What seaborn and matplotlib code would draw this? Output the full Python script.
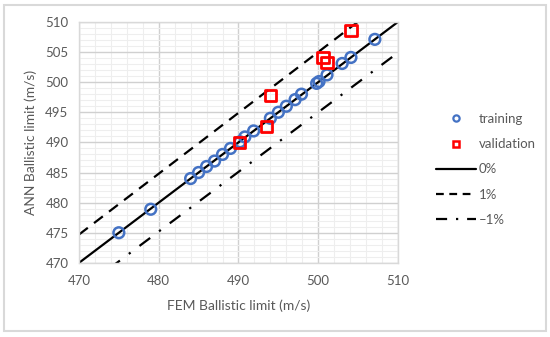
import numpy as np
import pandas as pd
import matplotlib
matplotlib.use("Agg")
import matplotlib.pyplot as plt
import seaborn as sns
from matplotlib.lines import Line2D
from matplotlib.patches import Rectangle

train_fem = [475, 479, 484, 485, 486, 487, 488, 489, 490.2, 490.8, 491.9, 494, 495, 496, 497.1, 497.9, 499.8, 500.1, 501.1, 503, 504.1, 507.1]
train_ann = [475, 478.9, 484, 485, 486, 486.9, 488, 489, 490.1, 490.9, 491.9, 494, 495, 496, 497.1, 498, 499.8, 500.1, 501.2, 503.1, 504.1, 507.1]
val_fem = [490.1, 493.5, 494.0, 500.6, 501.1, 504.1]
val_ann = [490.0, 492.6, 497.8, 504.1, 503.3, 508.6]
line_x = [470, 510]
labels = ["training", "validation", "0%", "1%", "\u20131%"]

sns.set_theme(style="white")
plt.rcParams['font.family'] = ['Lato', 'DejaVu Sans']

fig = plt.figure(figsize=(5.5, 3.37), dpi=100)
ax = fig.add_axes([0.1436, 0.22, 0.58, 0.715])

grid_c = "#d9d9d9"
ax.set_xlim(470, 510)
ax.set_ylim(470, 510)
ax.set_xticks(np.arange(470, 511, 10))
ax.set_yticks(np.arange(470, 511, 5))
ax.set_xticks(np.arange(470, 511, 2), minor=True)
ax.set_yticks(np.arange(470, 511, 1), minor=True)
ax.grid(which="major", color="#d0d0d0", lw=1.0)
ax.grid(which="minor", color="#eeeeee", lw=0.8)
ax.set_axisbelow(True)
for s in ax.spines.values():
    s.set_color(grid_c)
    s.set_linewidth(1.0)
ax.tick_params(axis="both", which="major", labelsize=9.5, labelcolor="#595959",
               length=4, color=grid_c, direction="out", width=1)
ax.tick_params(axis="both", which="minor", length=0)
ax.tick_params(axis="x", pad=5)

lx = np.array(line_x, dtype=float)
df_lines = pd.DataFrame({"x": np.concatenate([lx, lx, lx]),
                         "y": np.concatenate([lx, lx * 1.01, lx * 0.99]),
                         "s": ["0%"] * 2 + ["1%"] * 2 + ["-1%"] * 2})
sns.lineplot(data=df_lines[df_lines.s == "0%"], x="x", y="y", color="black", lw=1.6, ax=ax, legend=False)
sns.lineplot(data=df_lines[df_lines.s == "1%"], x="x", y="y", color="black", lw=1.6, ax=ax, legend=False,
             linestyle=(0, (5, 3.5)))
sns.lineplot(data=df_lines[df_lines.s == "-1%"], x="x", y="y", color="black", lw=1.6, ax=ax, legend=False,
             linestyle=(0, (6, 5, 1, 5)))

sns.scatterplot(x=train_fem, y=train_ann, ax=ax, marker="o", s=60,
                facecolors="none", edgecolor="#4472c4", linewidth=1.8, zorder=4)
sns.scatterplot(x=val_fem, y=val_ann, ax=ax, marker="s", s=68,
                facecolors="none", edgecolor="#ff0000", linewidth=2.0, zorder=5)

ax.set_xlabel("FEM Ballistic limit (m/s)", fontsize=10, color="#595959", labelpad=9)
ax.set_ylabel("ANN Ballistic limit (m/s)", fontsize=10, color="#595959", labelpad=6)

handles = [
    Line2D([], [], marker="o", ls="none", mfc="none", mec="#4472c4", mew=1.6, ms=4.5),
    Line2D([], [], marker="s", ls="none", mfc="none", mec="#ff0000", mew=1.8, ms=4.5),
    Line2D([], [], color="black", lw=1.6),
    Line2D([], [], color="black", lw=1.6, ls=(0, (3.5, 2.5))),
    Line2D([], [], color="black", lw=1.6, ls=(0, (5, 4, 1, 4))),
]
leg = fig.legend(handles, labels, loc="upper left", bbox_to_anchor=(0.772, 0.70),
                 frameon=False, fontsize=9.5, handlelength=3.0, handletextpad=0.2,
                 labelspacing=1.0)
for t in leg.get_texts():
    t.set_color("#595959")

fig.patches.append(Rectangle((0.007, 0.018), 0.985, 0.968, transform=fig.transFigure,
                             fill=False, edgecolor="#d9d9d9", lw=1.5))

fig.savefig("out.png", dpi=100)
